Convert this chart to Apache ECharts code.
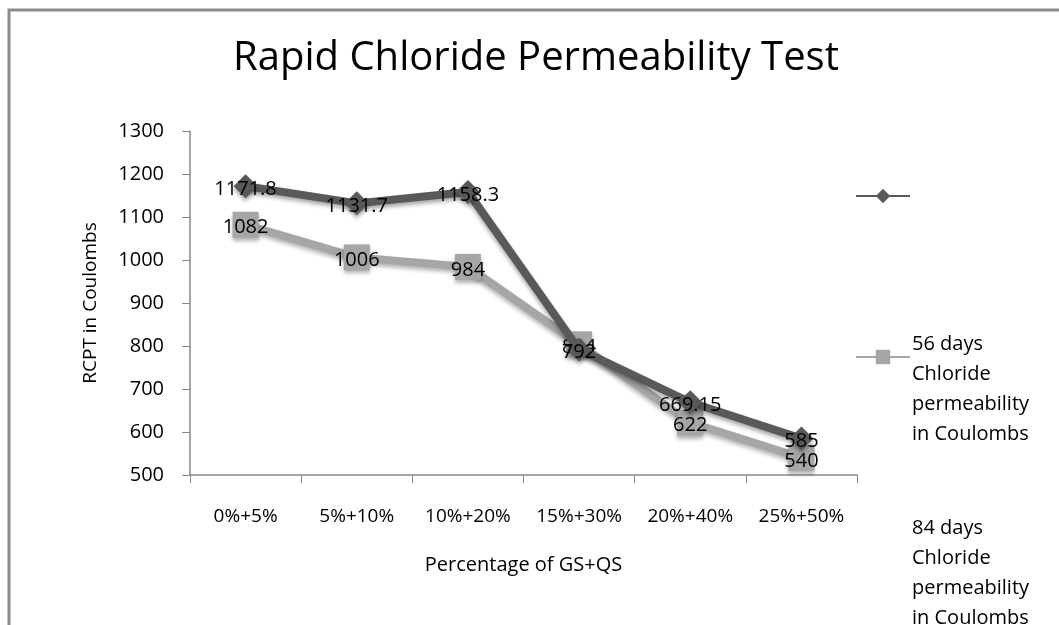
<!DOCTYPE html>
<html>
<head>
<meta charset="utf-8">
<script src="https://cdn.jsdelivr.net/npm/echarts@6/dist/echarts.min.js"></script>
<style>
  html, body { margin: 0; padding: 0; background: #fff; }
  #chart { width: 1059px; height: 625px; }
</style>
</head>
<body>
<div id="chart"></div>
<script>
var categories = ["0%+5%", "5%+10%", "10%+20%", "15%+30%", "20%+40%", "25%+50%"];
var days56 = [1171.8, 1131.7, 1158.3, 792, 669.15, 585];
var days84 = [1082, 1006, 984, 804, 622, 540];
var name56 = "56 days Chloride permeability in Coulombs";
var name84 = "84 days Chloride permeability in Coulombs";

var font = "Open Sans";
var myChart = echarts.init(document.getElementById("chart"));
var option = {
  backgroundColor: "#fff",
  animation: false,
  title: {
    text: "Rapid Chloride Permeability Test",
    left: 531,
    textAlign: "center",
    top: 34,
    textStyle: {
      fontFamily: font,
      fontWeight: "normal",
      fontSize: 40,
      color: "#000"
    }
  },
  grid: {
    left: 190,
    right: 202,
    top: 131,
    bottom: 150
  },
  legend: [
    {
      data: [name56],
      left: 855,
      top: 187,
      padding: 0,
      itemWidth: 54,
      itemHeight: 18,
      formatter: function() {
        return "";
      }
    },
    {
      data: [name84],
      left: 855,
      top: 348,
      padding: 0,
      itemWidth: 54,
      itemHeight: 18,
      formatter: function() {
        return "";
      }
    }
  ],
  graphic: [
    {
      type: "polyline",
      shape: { points: [[9, 625], [9, 10], [1059, 10]] },
      style: { stroke: "#8c8c8c", lineWidth: 3, fill: null }
    },
    {
      type: "text",
      left: 912,
      top: 329,
      style: {
        text: "56 days\nChloride\npermeability\nin Coulombs",
        font: "20px 'Open Sans'",
        lineHeight: 30,
        fill: "#000"
      }
    },
    {
      type: "text",
      left: 912,
      top: 513,
      style: {
        text: "84 days\nChloride\npermeability\nin Coulombs",
        font: "20px 'Open Sans'",
        lineHeight: 30,
        fill: "#000"
      }
    }
  ],
  xAxis: {
    type: "category",
    data: categories,
    boundaryGap: true,
    name: "Percentage of GS+QS",
    nameLocation: "middle",
    nameGap: 80,
    nameTextStyle: { fontFamily: font, fontSize: 20, color: "#000" },
    axisLine: { lineStyle: { color: "#888", width: 1.5 } },
    axisTick: { show: true, interval: 0, length: 8, lineStyle: { color: "#888" } },
    axisLabel: {
      interval: 0,
      hideOverlap: false,
      margin: 32,
      fontFamily: font,
      fontSize: 19,
      color: "#000"
    },
    splitLine: { show: false }
  },
  yAxis: {
    type: "value",
    min: 500,
    max: 1300,
    interval: 100,
    name: "RCPT in Coulombs",
    nameLocation: "middle",
    nameGap: 90,
    nameTextStyle: { fontFamily: font, fontSize: 19, color: "#000" },
    axisLine: { show: true, lineStyle: { color: "#888", width: 1.5 } },
    axisTick: { show: true, length: 8, lineStyle: { color: "#888" } },
    axisLabel: {
      margin: 26,
      fontFamily: font,
      fontSize: 20,
      color: "#000",
      formatter: function(v) {
        return String(v);
      }
    },
    splitLine: { show: false }
  },
  series: [
    {
      name: name56,
      type: "line",
      data: days56,
      symbol: "diamond",
      symbolSize: 24,
      z: 3,
      lineStyle: {
        color: "#595959",
        width: 8,
        shadowColor: "rgba(0,0,0,0.35)",
        shadowBlur: 4,
        shadowOffsetY: 3
      },
      itemStyle: {
        color: "#595959",
        borderWidth: 0,
        shadowColor: "rgba(0,0,0,0.35)",
        shadowBlur: 4,
        shadowOffsetY: 3
      },
      label: {
        show: true,
        position: "inside",
        offset: [0, 3],
        fontFamily: font,
        fontSize: 20,
        color: "#000"
      }
    },
    {
      name: name84,
      type: "line",
      data: days84,
      symbol: "rect",
      symbolSize: 26,
      z: 2,
      lineStyle: {
        color: "#a6a6a6",
        width: 8,
        shadowColor: "rgba(0,0,0,0.3)",
        shadowBlur: 4,
        shadowOffsetY: 3
      },
      itemStyle: {
        color: "#a6a6a6",
        borderWidth: 0,
        shadowColor: "rgba(0,0,0,0.3)",
        shadowBlur: 4,
        shadowOffsetY: 3
      },
      label: {
        show: true,
        position: "inside",
        offset: [0, 3],
        fontFamily: font,
        fontSize: 20,
        color: "#000"
      }
    }
  ]
};
myChart.setOption(option);
</script>
</body>
</html>
